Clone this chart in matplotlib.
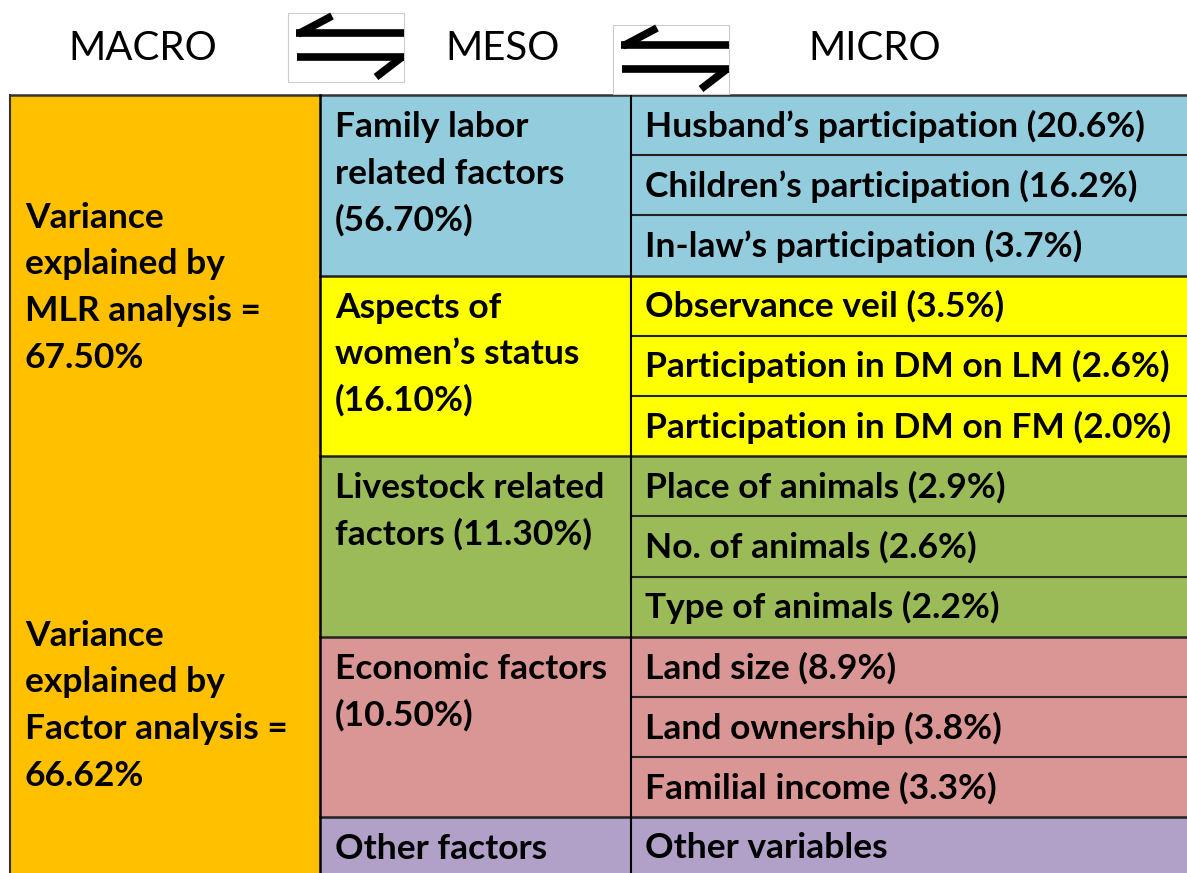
import matplotlib.pyplot as plt
from matplotlib.patches import Rectangle

# levels in the header
levels = ["MACRO", "MESO", "MICRO"]
level_x = [143, 503, 875]

# macro column text (two blocks)
macro_blocks = [["Variance", "explained by", "MLR analysis =", "67.50%"],
                ["Variance", "explained by", "Factor analysis =", "66.62%"]]
macro_y = [218, 636]

# meso groups: label lines, number of micro rows, colour
meso_labels = [["Family labor", "related factors", "(56.70%)"],
               ["Aspects of", "women\u2019s status", "(16.10%)"],
               ["Livestock related", "factors (11.30%)"],
               ["Economic factors", "(10.50%)"],
               ["Other factors"]]
meso_rows = [3, 3, 3, 3, 1]
meso_colors = ["#93CDDD", "#FFFF00", "#9BBB59", "#D99694", "#B1A0C7"]

micro_labels = ["Husband\u2019s participation (20.6%)",
                "Children\u2019s participation (16.2%)",
                "In-law\u2019s participation (3.7%)",
                "Observance veil (3.5%)",
                "Participation in DM on LM (2.6%)",
                "Participation in DM on FM (2.0%)",
                "Place of animals (2.9%)",
                "No. of animals (2.6%)",
                "Type of animals (2.2%)",
                "Land size (8.9%)",
                "Land ownership (3.8%)",
                "Familial income (3.3%)",
                "Other variables"]

macro_color = "#FFC000"

fig = plt.figure(figsize=(11.87, 8.73), dpi=100)
ax = fig.add_axes([0, 0, 1, 1])
ax.set_xlim(0, 1187)
ax.set_ylim(873, 0)
ax.axis("off")

font = ["Lato", "DejaVu Sans"]
top = 95
row_h = 60.2
x0, x1, x2, x3 = 10, 320, 631, 1190
fs = 25.5
lh = 46.5

# header
for name, x in zip(levels, level_x):
    ax.text(x, 49, name, ha="center", va="center", fontsize=29, family=font)

# arrow icons
for bx, by in [(288, 13), (613, 25)]:
    ax.add_patch(Rectangle((bx, by), 116, 69, facecolor="white",
                           edgecolor="#cccccc", lw=0.8, zorder=3))
    kw = dict(color="black", lw=5.5, solid_capstyle="butt", zorder=4)
    ax.plot([bx + 8, bx + 116], [by + 20, by + 20], **kw)
    ax.plot([bx + 10, bx + 44], [by + 21, by + 3], **kw)
    ax.plot([bx + 9, bx + 116], [by + 44, by + 44], **kw)
    ax.plot([bx + 114, bx + 88], [by + 44, by + 64], **kw)

# macro column
ax.add_patch(Rectangle((x0, top), x1 - x0, 873 - top, facecolor=macro_color,
                       edgecolor="none"))
for lines, y in zip(macro_blocks, macro_y):
    for i, t in enumerate(lines):
        ax.text(25, y + i * lh, t, va="center", fontsize=fs,
                fontweight="bold", family=font)

# meso and micro
r = 0
for labels, n, col in zip(meso_labels, meso_rows, meso_colors):
    y = top + r * row_h
    ax.add_patch(Rectangle((x1, y), x3 - x1, n * row_h, facecolor=col,
                           edgecolor="none"))
    for i, t in enumerate(labels):
        ax.text(335, y + 32 + i * lh, t, va="center", fontsize=fs,
                fontweight="bold", family=font)
    for k in range(n):
        yy = y + k * row_h
        ax.text(645, yy + 31, micro_labels[r + k], va="center", fontsize=fs,
                fontweight="bold", family=font)
        if k > 0:
            ax.plot([x2, x3], [yy, yy], color="#222222", lw=1.5)
    if r > 0:
        ax.plot([x1, x3], [y, y], color="#222222", lw=1.8)
    r += n

# borders
ax.plot([x0, x3], [top, top], color="#333333", lw=1.8)
ax.plot([x0, x0], [top, 873], color="#333333", lw=1.5)
ax.plot([x1, x1], [top, 873], color="black", lw=1.8)
ax.plot([x2, x2], [top, 873], color="black", lw=1.5)

fig.savefig("out.png", dpi=100)
